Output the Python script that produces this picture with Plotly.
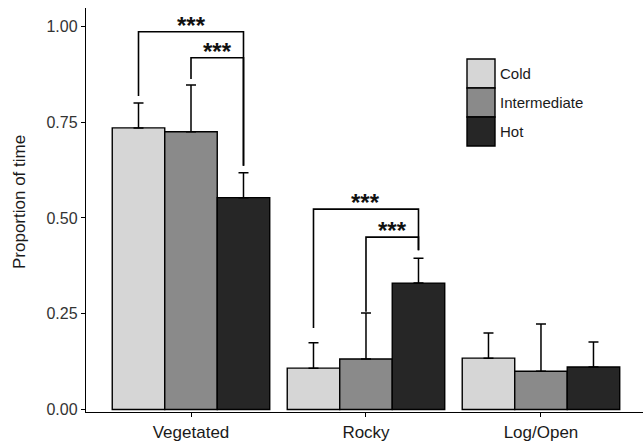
import plotly.graph_objects as go

# ---- data ----
habitats = ["Vegetated", "Rocky", "Log/Open"]
temps = ["Cold", "Intermediate", "Hot"]
means = {
    "Cold": [0.735, 0.108, 0.134],
    "Intermediate": [0.725, 0.132, 0.100],
    "Hot": [0.553, 0.330, 0.111],
}
upper = {
    "Cold": [0.800, 0.174, 0.200],
    "Intermediate": [0.847, 0.252, 0.223],
    "Hot": [0.618, 0.395, 0.176],
}
colors = {"Cold": "#d6d6d6", "Intermediate": "#8a8a8a", "Hot": "#262626"}
y_ticks = [0.0, 0.25, 0.5, 0.75, 1.0]
y_ticklabels = ["0.00", "0.25", "0.50", "0.75", "1.00"]
y_title = "Proportion of time"

# significance brackets: (habitat index, from temp, to temp, bracket height, left leg end, right leg end)
brackets = [
    (0, "Cold", "Hot", 0.986, 0.818, 0.636),
    (0, "Intermediate", "Hot", 0.918, 0.863, 0.636),
    (1, "Cold", "Hot", 0.523, 0.213, 0.416),
    (1, "Intermediate", "Hot", 0.450, 0.255, 0.416),
]
sig_label = "<b>***</b>"

W, H = 643, 442
L, R, T, B = 86, 0, 8, 30
YR = [-0.0065, 1.048]
XR = [-0.6, 2.583]
FONT = "Liberation Sans, Arial"

fig = go.Figure()
offs = {"Cold": -0.3, "Intermediate": 0.0, "Hot": 0.3}
for t in temps:
    fig.add_trace(go.Bar(
        x=habitats, y=means[t], name=t,
        marker=dict(color=colors[t], line=dict(color="black", width=1.4)),
        error_y=dict(type="data", symmetric=False,
                     array=[u - m for u, m in zip(upper[t], means[t])],
                     arrayminus=[0, 0, 0], color="black", thickness=1.5, width=5),
        showlegend=False,
    ))

shapes = []
annotations = []
for hi, a, b, yb, ya_end, yb_end in brackets:
    xa = hi + offs[a]
    xb = hi + offs[b]
    shapes.append(dict(type="path", xref="x", yref="y",
                       path=f"M {xa},{ya_end} L {xa},{yb} L {xb},{yb} L {xb},{yb_end}",
                       line=dict(color="black", width=1.6)))
    annotations.append(dict(x=(xa + xb) / 2, y=yb, xref="x", yref="y",
                            text=sig_label, showarrow=False, yanchor="bottom",
                            yshift=-9,
                            font=dict(size=24, color="#111", family=FONT)))

# legend drawn with paper coords (pixel helpers)
pw = W - L - R
ph = H - T - B
def px(xp):
    return (xp - L) / pw
def py(yp):
    return (H - B - yp) / ph

key_top = 59
key_h = 29
for i, t in enumerate(temps):
    y0 = key_top + i * key_h
    shapes.append(dict(type="rect", xref="paper", yref="paper",
                       x0=px(467), x1=px(495), y0=py(y0 + key_h), y1=py(y0),
                       fillcolor=colors[t], line=dict(color="black", width=1.4)))
    annotations.append(dict(x=px(498), y=py(y0 + key_h / 2), xref="paper", yref="paper",
                            text=t, showarrow=False, xanchor="left", yanchor="middle",
                            font=dict(size=15, color="#1a1a1a", family=FONT)))

# y-axis title
annotations.append(dict(x=px(19), y=py(202), xref="paper", yref="paper",
                        text=y_title, textangle=-90, showarrow=False,
                        xanchor="center", yanchor="middle",
                        font=dict(size=17, color="#1a1a1a", family=FONT)))

fig.update_layout(
    width=W, height=H,
    margin=dict(l=L, r=R, t=T, b=B),
    barmode="group", bargap=0.1, bargroupgap=0,
    plot_bgcolor="white", paper_bgcolor="white",
    shapes=shapes, annotations=annotations,
    font=dict(family=FONT, color="#1a1a1a"),
)
fig.update_xaxes(range=XR, showline=True, linecolor="black", linewidth=1.4,
                 ticks="outside", ticklen=4, tickcolor="black", showgrid=False,
                 tickfont=dict(size=17, color="#1a1a1a"), zeroline=False)
fig.update_yaxes(range=YR, showline=True, linecolor="black", linewidth=1.4,
                 ticks="outside", ticklen=4, tickcolor="black", showgrid=False,
                 tickvals=y_ticks, ticktext=y_ticklabels,
                 tickfont=dict(size=16, color="#333"), zeroline=False)

fig.write_html("out.html")
